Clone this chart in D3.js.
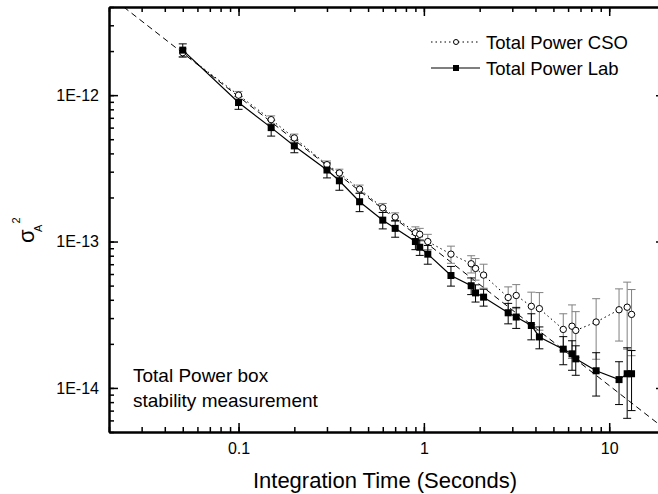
<!DOCTYPE html>
<html>
<head>
<meta charset="utf-8">
<script src="https://cdn.jsdelivr.net/npm/d3@7"></script>
<style>
  body { margin: 0; background: #fff; }
  text { font-family: "Liberation Sans", Arial, sans-serif; fill: #000; }
</style>
</head>
<body>
<div id="chart"></div>
<script>
// integration times (s), shared by both series
const tau = [0.05, 0.1, 0.15, 0.2, 0.3, 0.35, 0.45, 0.6, 0.7, 0.9, 0.95, 1.05, 1.4, 1.8, 1.9, 2.1,
  2.85, 3.15, 3.8, 4.2, 5.65, 6.3, 6.6, 8.5, 11.3, 12.5, 13.2];

// Allan variance, units of 1E-13
const csoVar = [19.5, 10.0, 6.8, 5.1, 3.35, 2.94, 2.28, 1.70, 1.47, 1.15, 1.12, 1.00, 0.82, 0.705, 0.655, 0.59,
  0.415, 0.428, 0.361, 0.348, 0.251, 0.264, 0.247, 0.282, 0.342, 0.356, 0.318];
const csoErr = [1.2, 0.6, 0.42, 0.32, 0.2, 0.18, 0.15, 0.12, 0.10, 0.11, 0.11, 0.12, 0.11, 0.095, 0.11, 0.11,
  0.075, 0.08, 0.09, 0.10, 0.07, 0.105, 0.085, 0.125, 0.133, 0.172, 0.152];
const labVar = [20.3, 8.9, 6.0, 4.5, 3.08, 2.60, 1.87, 1.40, 1.23, 1.00, 0.914, 0.82, 0.586, 0.499, 0.446, 0.417,
  0.326, 0.305, 0.267, 0.223, 0.184, 0.171, 0.158, 0.131, 0.114, 0.125, 0.125];
const labErr = [2.1, 0.9, 0.75, 0.46, 0.36, 0.36, 0.27, 0.18, 0.16, 0.12, 0.11, 0.12, 0.09, 0.065, 0.06, 0.055,
  0.052, 0.05, 0.054, 0.038, 0.04, 0.039, 0.036, 0.043, 0.037, 0.063, 0.055];
const UNIT = 1e-13;

// dashed reference line (end points)
const refLine = [[0.024, 4.0e-12], [20, 5.24e-15]];

const seriesNames = ["Total Power CSO", "Total Power Lab"];
const noteLines = ["Total Power box", "stability measurement"];

const W = 658, H = 494;
const margin = { left: 109, top: 7, right: -7, bottom: 62 };
const x0 = margin.left, x1 = W - margin.right, y0 = margin.top, y1 = H - margin.bottom;

const x = d3.scaleLog().domain([0.02, 20]).range([x0, x1]);
const y = d3.scaleLog().domain([5e-15, 4e-12]).range([y1, y0]);

const svg = d3.select("#chart").append("svg")
  .attr("width", W).attr("height", H);

svg.append("defs").append("clipPath").attr("id", "plotclip")
  .append("rect").attr("x", x0).attr("y", y0).attr("width", x1 - x0).attr("height", y1 - y0);

//////////////////// axes ////////////////////
const decadesX = [0.1, 1, 10];
const decadesY = [1e-14, 1e-13, 1e-12];
const fmtY = d => "1E" + Math.round(Math.log10(d));
const fmtX = d => d3.format("~g")(d);

function styleAxis(g) {
  g.select(".domain").attr("stroke-width", 2);
  g.selectAll(".tick line").attr("stroke-width", 1.5);
  g.selectAll("text").style("font-size", "16px").attr("font-family", null);
}

// minor ticks
svg.append("g").attr("transform", `translate(0,${y1})`)
  .call(d3.axisBottom(x).ticks(20).tickFormat("").tickSize(-5).tickSizeOuter(0)).call(styleAxis);
svg.append("g").attr("transform", `translate(0,${y0})`)
  .call(d3.axisTop(x).ticks(20).tickFormat("").tickSize(-5).tickSizeOuter(0)).call(styleAxis);
svg.append("g").attr("transform", `translate(${x0},0)`)
  .call(d3.axisLeft(y).ticks(30).tickFormat("").tickSize(-5).tickSizeOuter(0)).call(styleAxis);
svg.append("g").attr("transform", `translate(${x1},0)`)
  .call(d3.axisRight(y).ticks(30).tickFormat("").tickSize(-5).tickSizeOuter(0)).call(styleAxis);

// major ticks + labels
svg.append("g").attr("transform", `translate(0,${y1})`)
  .call(d3.axisBottom(x).tickValues(decadesX).tickFormat(fmtX).tickSize(-9).tickPadding(11).tickSizeOuter(0))
  .call(styleAxis);
svg.append("g").attr("transform", `translate(0,${y0})`)
  .call(d3.axisTop(x).tickValues(decadesX).tickFormat("").tickSize(-9).tickSizeOuter(0)).call(styleAxis);
svg.append("g").attr("transform", `translate(${x0},0)`)
  .call(d3.axisLeft(y).tickValues(decadesY).tickFormat(fmtY).tickSize(-9).tickPadding(10).tickSizeOuter(0))
  .call(styleAxis);
svg.append("g").attr("transform", `translate(${x1},0)`)
  .call(d3.axisRight(y).tickValues(decadesY).tickFormat("").tickSize(-9).tickSizeOuter(0)).call(styleAxis);

// axis titles
svg.append("text")
  .attr("x", 385).attr("y", 488)
  .attr("text-anchor", "middle")
  .style("font-size", "22px")
  .text("Integration Time (Seconds)");

const ylab = svg.append("text").attr("transform", "translate(34,243) rotate(-90)");
ylab.append("tspan").style("font-size", "22px").text("σ");
ylab.append("tspan").attr("x", 11).attr("y", 7.7).style("font-size", "11px").text("A");
ylab.append("tspan").attr("x", 19.5).attr("y", -14).style("font-size", "11px").text("2");

//////////////////// data ////////////////////
const plot = svg.append("g").attr("clip-path", "url(#plotclip)");

const line = d3.line().x(d => x(d[0])).y(d => y(d[1]));

// reference
plot.append("path")
  .attr("d", line(refLine))
  .attr("fill", "none").attr("stroke", "#000").attr("stroke-width", 1)
  .attr("stroke-dasharray", "6,4");

const cso = tau.map((t, i) => ({ t, v: csoVar[i] * UNIT, e: csoErr[i] * UNIT }));
const lab = tau.map((t, i) => ({ t, v: labVar[i] * UNIT, e: labErr[i] * UNIT }));

function errorBars(data, color) {
  const g = plot.append("g").attr("stroke", color).attr("stroke-width", 1).attr("fill", "none");
  const bars = g.selectAll("g").data(data).enter().append("g");
  bars.append("line")
    .attr("x1", d => x(d.t)).attr("x2", d => x(d.t))
    .attr("y1", d => y(d.v + d.e)).attr("y2", d => y(Math.max(d.v - d.e, 1e-16)));
  bars.append("line")
    .attr("x1", d => x(d.t) - 4).attr("x2", d => x(d.t) + 4)
    .attr("y1", d => y(d.v + d.e)).attr("y2", d => y(d.v + d.e));
  bars.append("line")
    .attr("x1", d => x(d.t) - 4).attr("x2", d => x(d.t) + 4)
    .attr("y1", d => y(d.v - d.e)).attr("y2", d => y(d.v - d.e));
}

errorBars(cso, "#808080");
errorBars(lab, "#000");

plot.append("path")
  .attr("d", line(cso.map(d => [d.t, d.v])))
  .attr("fill", "none").attr("stroke", "#000").attr("stroke-width", 1)
  .attr("stroke-dasharray", "1.5,3");

plot.append("path")
  .attr("d", line(lab.map(d => [d.t, d.v])))
  .attr("fill", "none").attr("stroke", "#000").attr("stroke-width", 1.2);

plot.selectAll("circle.cso").data(cso).enter().append("circle")
  .attr("class", "cso")
  .attr("cx", d => x(d.t)).attr("cy", d => y(d.v)).attr("r", 3.2)
  .attr("fill", "#fff").attr("stroke", "#000").attr("stroke-width", 1);

plot.selectAll("rect.lab").data(lab).enter().append("rect")
  .attr("class", "lab")
  .attr("x", d => x(d.t) - 3.5).attr("y", d => y(d.v) - 3.5)
  .attr("width", 7).attr("height", 7).attr("fill", "#000");

//////////////////// legend ////////////////////
const legend = svg.append("g");
const legY = [42, 68];
legend.append("line").attr("x1", 431).attr("x2", 480).attr("y1", legY[0]).attr("y2", legY[0])
  .attr("stroke", "#000").attr("stroke-dasharray", "1.5,3");
legend.append("circle").attr("cx", 456).attr("cy", legY[0]).attr("r", 2.5)
  .attr("fill", "#fff").attr("stroke", "#000");
legend.append("line").attr("x1", 431).attr("x2", 480).attr("y1", legY[1]).attr("y2", legY[1])
  .attr("stroke", "#000").attr("stroke-width", 1.2);
legend.append("rect").attr("x", 453).attr("y", legY[1] - 3).attr("width", 6).attr("height", 6).attr("fill", "#000");
legend.selectAll("text").data(seriesNames).enter().append("text")
  .attr("x", 486).attr("y", (d, i) => legY[i] + 6.5)
  .style("font-size", "18.5px")
  .text(d => d);

// note
svg.selectAll("text.note").data(noteLines).enter().append("text")
  .attr("class", "note")
  .attr("x", 133).attr("y", (d, i) => 382 + i * 24.5)
  .style("font-size", "19px")
  .text(d => d);
</script>
</body>
</html>
